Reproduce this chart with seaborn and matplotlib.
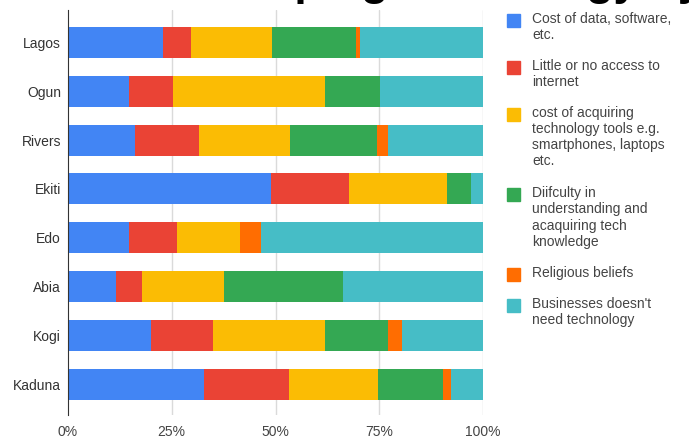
import numpy as np
import pandas as pd
import matplotlib.pyplot as plt
import seaborn as sns
from matplotlib.patches import Rectangle

states = ['Lagos', 'Ogun', 'Rivers', 'Ekiti', 'Edo', 'Abia', 'Kogi', 'Kaduna']
reasons = ['Cost of data, software,\netc.',
           'Little or no access to\ninternet',
           'cost of acquiring\ntechnology tools e.g.\nsmartphones, laptops\netc.',
           'Diifculty in\nunderstanding and\nacaquiring tech\nknowledge',
           'Religious beliefs',
           "Businesses doesn't\nneed technology"]
cost_data = [22.8, 14.7, 16.1, 49.0, 14.8, 11.6, 19.9, 32.7]
no_internet = [6.8, 10.7, 15.4, 18.8, 11.5, 6.3, 15.0, 20.6]
cost_tools = [19.6, 36.5, 22.0, 23.6, 15.2, 19.7, 27.0, 21.3]
difficulty = [20.1, 13.3, 21.0, 5.8, 0.0, 28.7, 15.3, 15.8]
religion = [1.1, 0.0, 2.5, 0.0, 5.0, 0.0, 3.4, 1.9]
no_need = [29.6, 24.8, 23.0, 2.8, 53.5, 33.7, 19.4, 7.7]
colors = ['#4285F4', '#EA4335', '#FBBC04', '#34A853', '#FF6D01', '#46BDC6']
title = 'Barriers to developing technology by state'

df = pd.DataFrame({'state': states, 'r0': cost_data, 'r1': no_internet, 'r2': cost_tools,
                   'r3': difficulty, 'r4': religion, 'r5': no_need})
cols = ['r0', 'r1', 'r2', 'r3', 'r4', 'r5']
cum = df[cols].cumsum(axis=1)

sns.set_style('white')
plt.rcParams['font.family'] = ['Liberation Sans', 'DejaVu Sans']

fig = plt.figure(figsize=(6.89, 4.38), dpi=100)
ax = fig.add_axes([68/689, 1-415/438, 415/689, 405/438])

# paint cumulative totals from the right so each segment shows
for i in reversed(range(len(cols))):
    sns.barplot(x=cum[cols[i]], y=df['state'], color=colors[i], orient='h',
                width=0.635, saturation=1, linewidth=0, ax=ax, zorder=2)

ax.set_xlim(0, 100)
ax.set_ylim(7.635, -0.666)
ax.set_xticks([0, 25, 50, 75, 100])
ax.set_xticklabels(['0%', '25%', '50%', '75%', '100%'])
for x in [25, 50, 75, 100]:
    ax.axvline(x, color='#dadada', lw=1, zorder=1)
ax.set_xlabel('')
ax.set_ylabel('')
for s in ['top', 'right', 'bottom']:
    ax.spines[s].set_visible(False)
ax.spines['left'].set_color('#333333')
ax.spines['left'].set_zorder(3)
ax.tick_params(axis='y', length=0, pad=5, labelsize=10, labelcolor='#333333')
ax.tick_params(axis='x', length=0, pad=7, labelsize=10, labelcolor='#444444')

# big title, cropped at the top edge in the original: only descenders show
r = fig.canvas.get_renderer()
tmp = fig.text(0, 0, title[:title.index('ping')], fontsize=32, fontweight='bold')
pre_w = tmp.get_window_extent(r).width
tmp.remove()
fig.text((294 - pre_w)/689, 1+5/438, title, ha='left', va='baseline',
         fontsize=32, fontweight='bold', color='black')

# legend drawn by hand so the swatch sits at the first text line
line_h = 16.7
y = 20
for lab, c in zip(reasons, colors):
    fig.patches.append(Rectangle((507/689, 1-(y+7)/438), 13/689, 13/438,
                                 color=c, transform=fig.transFigure))
    fig.text(532/689, 1-(y-8)/438, lab, ha='left', va='top', fontsize=10,
             color='#444444', linespacing=1.2)
    y += lab.count('\n')*line_h + line_h + 13.5

fig.savefig('out.png', dpi=100)
